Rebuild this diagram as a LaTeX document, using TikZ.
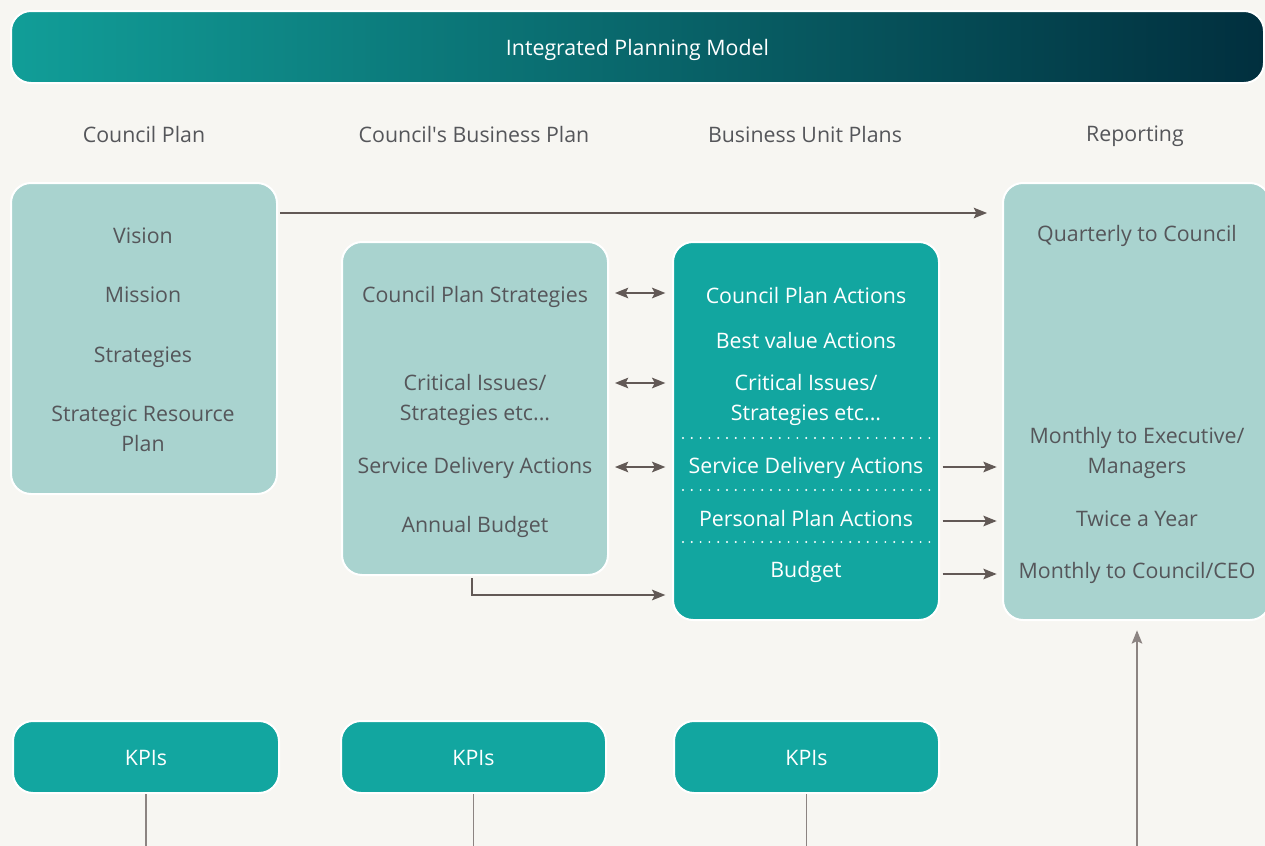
\documentclass[tikz,border=0pt]{standalone}
\usepackage{fontspec}
\setmainfont{Open Sans}
\usetikzlibrary{arrows.meta,fit,calc,positioning}
\definecolor{paper}{HTML}{F7F6F2}
\definecolor{pale}{HTML}{A9D3CF}
\definecolor{deep}{HTML}{12A6A0}
\definecolor{ink}{HTML}{55565A}
\definecolor{wire}{HTML}{625956}
\definecolor{stemc}{HTML}{8C8482}

\begin{document}
\begin{tikzpicture}[x=0.75pt,y=-0.75pt,
  txt/.style={font=\fontsize{16}{22.5}\selectfont,text=ink,align=center,inner sep=0pt},
  wtxt/.style={txt,text=white},
  card/.style={draw=white,line width=1.5pt,rounded corners=15pt,inner sep=0pt},
  lite/.style={card,fill=pale},
  dark/.style={card,fill=deep},
  arr/.style={wire,line width=1pt,-{Stealth[length=10pt,width=8pt,inset=2pt]}},
  biarr/.style={arr,{Stealth[length=10pt,width=8pt,inset=2pt]}-{Stealth[length=10pt,width=8pt,inset=2pt]}},
  stem/.style={stemc,line width=1.2pt},
  dots/.style={white,line width=1.6pt,line cap=round,dash pattern=on 0pt off 6.6pt}]

\fill[paper] (0,0) rectangle (1265,846);
\useasboundingbox (0,0) rectangle (1265,846);

% title bar
\node[card,left color=deep!95!black,middle color=teal!80!black,right color={rgb,255:red,1;green,47;blue,62},
      fit={(11,11)(1264,83)}] (bar) {};
\node[wtxt] at ($(bar.center)+(0,3)$) {Integrated Planning Model};

% column headings
\node[txt] (h1) at (144,134) {Council Plan};
\node[txt] (h2) at (474,134) {Council\textquotesingle s Business Plan};
\node[txt] (h3) at (805,134) {Business Unit Plans};
\node[txt] (h4) at (1135,136) {Reporting};

% boxes
\node[lite,fit={(11,183)(277,494)}] (cplan) {};
\node[lite,fit={(342,242)(608,575)}] (cbp) {};
\node[dark,fit={(673,242)(939,620)}] (bup) {};
\node[lite,fit={(1003,183)(1270,620)}] (report) {};

% council plan
\node[txt] at (143,236) {Vision};
\node[txt] at (143,295) {Mission};
\node[txt] at (143,357) {Strategies};
\node[txt] at (143,429) {Strategic Resource\\Plan};

% council's business plan
\node[txt] (cps) at (475,297) {Council Plan Strategies};
\node[txt] (iss2) at (475,400) {Critical Issues/\\Strategies etc...};
\node[txt] (sda2) at (475,468) {Service Delivery Actions};
\node[txt] at (475,527) {Annual Budget};

% business unit plans
\node[wtxt] (cpa) at (806,295) {Council Plan Actions};
\node[wtxt] at (806,340) {Best value Actions};
\node[wtxt] (iss3) at (806,400) {Critical Issues/\\Strategies etc...};
\node[wtxt] (sda3) at (806,468) {Service Delivery Actions};
\node[wtxt] (ppa) at (806,518) {Personal Plan Actions};
\node[wtxt] (bdg) at (806,572) {Budget};
\foreach \y in {438,490,542}
  \draw[dots] (683,\y) -- (930,\y);

% reporting
\node[txt] at (1137,236) {Quarterly to Council};
\node[txt] at (1137,453) {Monthly to Executive/\\Managers};
\node[txt] at (1137,519) {Twice a Year};
\node[txt] at (1137,573) {Monthly to Council/CEO};

% KPIs
\node[dark,fit={(13,721)(279,793)}] (kpi1) {};
\node[dark,fit={(341,721)(606,793)}] (kpi2) {};
\node[dark,fit={(674,721)(939,793)}] (kpi3) {};
\node[wtxt] at ($(kpi1.center)+(0,1)$) {KPIs};
\node[wtxt] at ($(kpi2.center)+(0,1)$) {KPIs};
\node[wtxt] at ($(kpi3.center)+(0,1)$) {KPIs};

% connectors
\coordinate (foot) at (1137,846);
\draw[arr] ($(cplan.north east)+(2,31)$) -- ($(report.north west)+(-15,31)$);
\draw[biarr,shorten <=4.5pt,shorten >=5pt] (cbp.east |- 0,293) -- (bup.west |- 0,293);
\draw[biarr,shorten <=4.5pt,shorten >=5pt] (cbp.east |- 0,383) -- (bup.west |- 0,383);
\draw[biarr,shorten <=4.5pt,shorten >=5pt] (cbp.east |- 0,467) -- (bup.west |- 0,467);
\draw[arr,shorten <=2pt,shorten >=4pt] (bup.east |- 0,467) -- (report.west |- 0,467);
\draw[arr,shorten <=2pt,shorten >=4pt] (bup.east |- 0,521) -- (report.west |- 0,521);
\draw[arr,shorten <=2pt,shorten >=4pt] (bup.east |- 0,574) -- (report.west |- 0,574);
\draw[arr,shorten >=5pt] ($(cbp.south)+(-3,2)$) |- (bup.west |- 0,595);
\draw[stem] (kpi1.south) -- (kpi1.south |- foot);
\draw[stem] (kpi2.south) -- (kpi2.south |- foot);
\draw[stem] (kpi3.south) -- (kpi3.south |- foot);
\draw[stem,-{Stealth[length=10pt,width=8pt,inset=2pt]},shorten >=7pt] (foot) -- (foot |- report.south);
\end{tikzpicture}
\end{document}
